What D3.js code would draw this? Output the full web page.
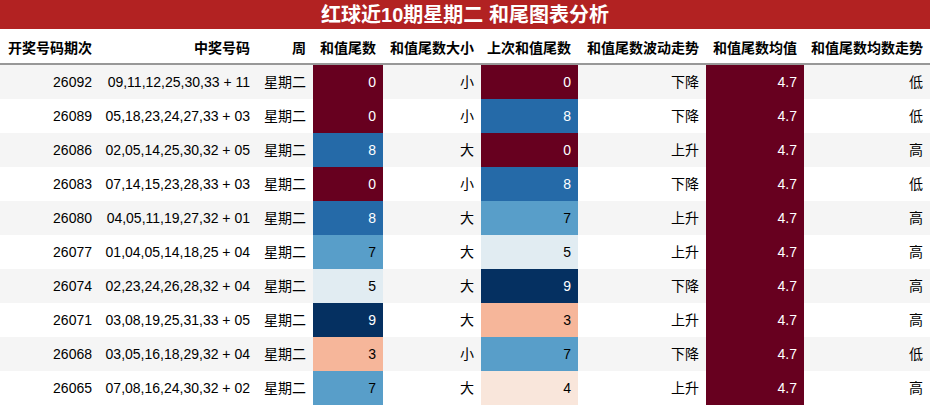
<!DOCTYPE html><html><head><meta charset="utf-8">
<script src="https://cdn.jsdelivr.net/npm/d3@7"></script>
<style>body{margin:0;background:#fff}text{font-family:"Liberation Sans","Noto Sans CJK SC",sans-serif}</style></head><body>
<script>
const headers=["开奖号码期次","中奖号码","周","和值尾数","和值尾数大小","上次和值尾数","和值尾数波动走势","和值尾数均值","和值尾数均数走势"];
const issues=["26092","26089","26086","26083","26080","26077","26074","26071","26068","26065"];
const numbers=["09,11,12,25,30,33 + 11","05,18,23,24,27,33 + 03","02,05,14,25,30,32 + 05","07,14,15,23,28,33 + 03","04,05,11,19,27,32 + 01","01,04,05,14,18,25 + 04","02,23,24,26,28,32 + 04","03,08,19,25,31,33 + 05","03,05,16,18,29,32 + 04","07,08,16,24,30,32 + 02"];
const weekdays=Array(10).fill("星期二");
const tails=[0,0,8,0,8,7,5,9,3,7];
const sizes=["小","小","大","小","大","大","大","大","小","大"];
const prevTails=[0,8,0,8,7,5,9,3,7,4];
const trends=["下降","下降","上升","下降","上升","上升","下降","上升","下降","上升"];
const means=Array(10).fill(4.7);
const meanTrends=["低","低","高","低","高","高","高","高","低","高"];

const W=930,H=406;
const svg=d3.select("body").append("svg").attr("width",W).attr("height",H);
svg.append("rect").attr("width",W).attr("height",29).attr("fill","#b22222");
svg.append("text").attr("x",W/2).attr("y",22).attr("text-anchor","middle").attr("fill","#fff")
 .attr("font-size",20).attr("font-weight","bold").text("红球近10期星期二 和尾图表分析");
const edges=[0,99,257,313,383,481,578,706,804,930];
const y=d3.scaleBand().domain(d3.range(10)).range([65,405]);
const color=v=>d3.interpolateRdBu(v/9);
const tc=c=>d3.lab(c).l<60?"#fff":"#000";
headers.forEach((h,i)=>svg.append("text").attr("x",edges[i+1]-7).attr("y",53).attr("text-anchor","end")
 .attr("font-size",14).attr("font-weight","bold").attr("fill","#000").text(h));
svg.append("line").attr("x1",0).attr("x2",W).attr("y1",64).attr("y2",64).attr("stroke","#333").attr("stroke-width",1.2);
d3.range(10).forEach(r=>{
  const yy=y(r),h=y.bandwidth();
  svg.append("rect").attr("x",0).attr("y",yy).attr("width",W).attr("height",h).attr("fill",r%2==0?"#f5f5f5":"#fff");
  const cells=[[issues[r]],[numbers[r]],[weekdays[r]],[tails[r],color(tails[r])],[sizes[r]],[prevTails[r],color(prevTails[r])],[trends[r]],[means[r],d3.interpolateRdBu(0)],[meanTrends[r]]];
  cells.forEach((c,i)=>{
    let fill="#000";
    if(c[1]){svg.append("rect").attr("x",edges[i]).attr("y",yy).attr("width",edges[i+1]-edges[i]).attr("height",h).attr("fill",c[1]);fill=tc(c[1]);}
    svg.append("text").attr("x",edges[i+1]-7).attr("y",yy+h/2+5).attr("text-anchor","end").attr("font-size",14).attr("fill",fill).text(c[0]);
  });
});
</script></body></html>
